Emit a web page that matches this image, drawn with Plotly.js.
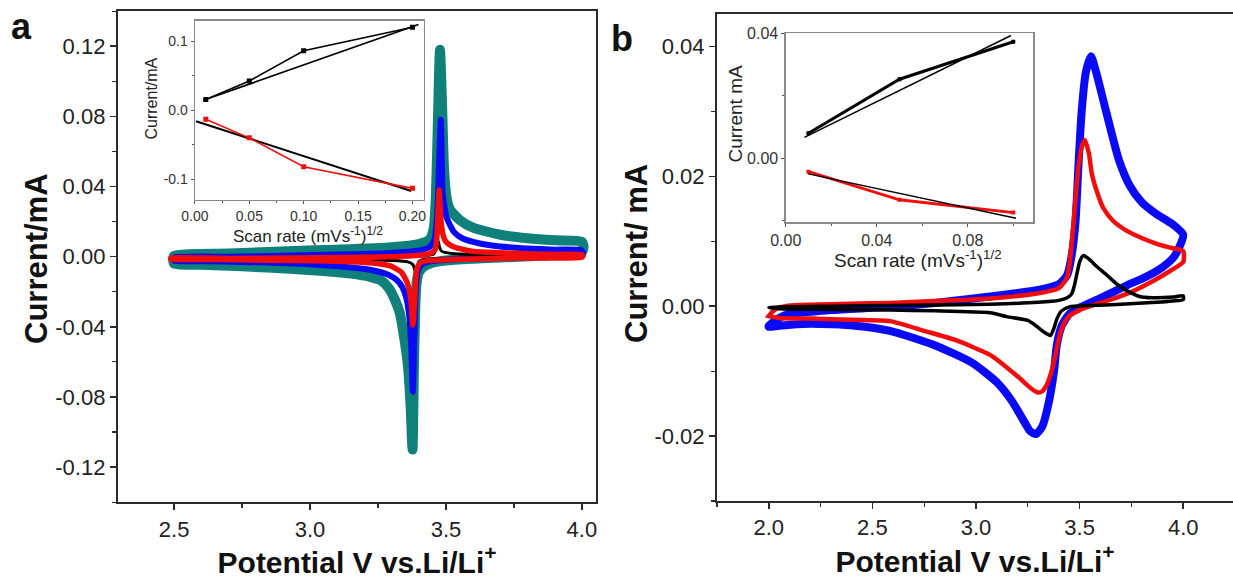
<!DOCTYPE html>
<html>
<head>
<meta charset="utf-8">
<script src="https://cdn.plot.ly/plotly-3.0.1.min.js"></script>
<style>html,body{margin:0;padding:0;background:#fff;}#chart{width:1233px;height:579px;}</style>
</head>
<body>
<div id="chart"></div>
<script>
// ---------- Panel a : CV curves (Potential V, Current mA) ----------
const aTealV = [2.50,2.70,2.94,3.10,3.30,3.40,3.44,3.455,3.463,3.470,3.478,3.486,3.493,3.502,3.514,3.55,3.60,3.70,3.80,3.90,4.00,4.006,
  4.00,3.95,3.80,3.70,3.60,3.50,3.45,3.42,3.40,3.392,3.387,3.382,3.377,3.370,3.360,3.345,3.330,3.312,3.29,3.26,3.22,3.15,3.05,2.94,2.75,2.60,2.50,2.497,2.50];
const aTealI = [0.0005,0.0018,0.0032,0.0040,0.0054,0.0072,0.0098,0.016,0.035,0.075,0.118,0.085,0.050,0.034,0.027,0.021,0.0165,0.0125,0.0105,0.0093,0.0085,0.0055,
  0.0025,0.0015,0.0002,-0.0005,-0.0012,-0.0022,-0.0035,-0.0055,-0.0090,-0.015,-0.030,-0.065,-0.110,-0.085,-0.062,-0.045,-0.032,-0.0245,-0.018,-0.0135,-0.0115,-0.0097,-0.0082,-0.0070,-0.0055,-0.0046,-0.0040,-0.0018,0.0005];

const aBlueV = [2.50,2.70,2.94,3.10,3.30,3.40,3.44,3.458,3.468,3.475,3.481,3.485,3.488,3.495,3.503,3.53,3.56,3.625,3.70,3.80,3.90,4.00,4.004,
  4.00,3.80,3.60,3.50,3.44,3.41,3.395,3.389,3.384,3.378,3.372,3.365,3.355,3.34,3.32,3.29,3.22,3.10,2.94,2.75,2.60,2.50,2.498,2.50];
const aBlueI = [-0.0005,0.0000,0.0006,0.0012,0.0021,0.0035,0.0055,0.010,0.025,0.055,0.078,0.055,0.036,0.028,0.022,0.014,0.0105,0.0075,0.0058,0.0047,0.0040,0.0036,0.0020,
  0.0006,-0.0003,-0.0010,-0.0018,-0.0028,-0.0045,-0.009,-0.020,-0.045,-0.077,-0.050,-0.034,-0.024,-0.0175,-0.0135,-0.0105,-0.0075,-0.0055,-0.0039,-0.0030,-0.0026,-0.0024,-0.0014,-0.0005];

const aRedV = [2.49,2.70,2.94,3.10,3.30,3.40,3.44,3.46,3.467,3.471,3.475,3.478,3.482,3.49,3.50,3.53,3.60,3.70,3.80,3.90,4.00,4.004,
  4.00,3.80,3.60,3.50,3.44,3.41,3.395,3.389,3.385,3.381,3.378,3.373,3.366,3.358,3.345,3.337,3.30,3.22,3.10,2.94,2.75,2.60,2.49,2.487,2.49];
const aRedI = [-0.0008,-0.0010,-0.0008,-0.0005,0.0000,0.0008,0.0018,0.004,0.012,0.025,0.038,0.030,0.020,0.012,0.0085,0.0055,0.0030,0.0022,0.0016,0.0013,0.0011,0.0004,
  -0.0003,-0.0008,-0.0013,-0.0017,-0.0022,-0.0030,-0.006,-0.013,-0.025,-0.035,-0.039,-0.028,-0.020,-0.015,-0.011,-0.009,-0.0055,-0.0035,-0.0026,-0.0022,-0.0018,-0.0016,-0.0015,-0.0012,-0.0008];

const aBlackV = [2.50,3.00,3.30,3.42,3.455,3.465,3.471,3.477,3.485,3.52,3.60,3.80,4.00,
  4.00,3.70,3.50,3.42,3.40,3.392,3.386,3.378,3.36,3.30,3.10,2.80,2.50];
const aBlackI = [-0.0006,-0.0004,-0.0001,0.0005,0.0015,0.005,0.009,0.005,0.003,0.0018,0.0012,0.0008,0.0006,
  -0.0002,-0.0006,-0.0010,-0.0014,-0.0028,-0.016,-0.008,-0.0045,-0.0030,-0.0022,-0.0015,-0.0012,-0.0010];

// ---------- Panel a inset ----------
const insAScan = [0.01, 0.05, 0.10, 0.20];
const insAOx   = [0.0155, 0.0425, 0.0865, 0.1207];
const insARed  = [-0.0130, -0.0401, -0.0820, -0.1135];
const insAFitOxX = [0.0077, 0.2055];
const insAFitOxY = [0.0145, 0.1246];
const insAFitRedX = [0.001, 0.1988];
const insAFitRedY = [-0.0159, -0.1174];

// ---------- Panel b : CV curves ----------
const bBlueV = [2.00,2.05,2.10,2.30,2.585,2.80,3.068,3.30,3.40,3.44,3.46,3.48,3.495,3.51,3.53,3.555,3.58,3.62,3.69,3.743,3.80,3.87,3.95,4.00,
  3.96,3.90,3.80,3.733,3.65,3.55,3.50,3.45,3.414,3.39,3.377,3.35,3.32,3.29,3.26,3.244,3.20,3.169,3.10,2.98,2.791,2.585,2.414,2.20,2.05,2.00,2.00];
const bBlueI = [-0.0030,-0.0018,-0.0012,-0.0006,-0.0001,0.0005,0.0015,0.0025,0.0034,0.0048,0.0075,0.0129,0.022,0.030,0.036,0.0385,0.0360,0.0310,0.0225,0.0185,0.0160,0.0142,0.0126,0.0110,
  0.0078,0.0060,0.0042,0.0033,0.0020,0.0005,-0.0002,-0.0012,-0.0030,-0.0060,-0.0099,-0.0150,-0.0185,-0.0197,-0.0192,-0.0184,-0.0160,-0.0144,-0.0117,-0.0087,-0.0059,-0.0038,-0.0030,-0.0027,-0.0030,-0.0032,-0.0030];

const bRedV = [2.00,2.03,2.10,2.30,2.585,2.80,3.068,3.30,3.40,3.44,3.463,3.48,3.495,3.51,3.525,3.545,3.559,3.585,3.613,3.66,3.728,3.80,3.872,3.94,4.00,
  4.00,3.94,3.85,3.75,3.65,3.55,3.50,3.45,3.42,3.40,3.38,3.36,3.34,3.32,3.30,3.28,3.26,3.20,3.10,3.068,2.90,2.75,2.585,2.40,2.20,2.05,2.00,2.00];
const bRedI = [-0.0015,-0.0005,0.0001,0.0003,0.0005,0.0008,0.0012,0.0020,0.0028,0.0045,0.0101,0.0165,0.0215,0.0245,0.0256,0.0235,0.0204,0.0175,0.0152,0.0132,0.0116,0.0105,0.0096,0.0090,0.0085,
  0.0068,0.0055,0.0038,0.0022,0.0010,0.0000,-0.0006,-0.0015,-0.0030,-0.0050,-0.0080,-0.0105,-0.0122,-0.0131,-0.0133,-0.0130,-0.0125,-0.0108,-0.0082,-0.0075,-0.0052,-0.0038,-0.0023,-0.0021,-0.0019,-0.0018,-0.0015,-0.0015];

const bBlackV = [2.00,2.30,2.585,3.068,3.30,3.40,3.44,3.462,3.475,3.487,3.50,3.518,3.54,3.58,3.631,3.68,3.728,3.79,3.85,3.95,4.00,
  4.00,3.95,3.872,3.70,3.55,3.45,3.41,3.39,3.375,3.36,3.345,3.32,3.293,3.25,3.148,3.068,2.80,2.585,2.30,2.05,2.00];
const bBlackI = [-0.0002,0.0000,0.0001,0.0003,0.0006,0.0009,0.0013,0.0019,0.0032,0.0050,0.0068,0.0078,0.0074,0.0062,0.0048,0.0034,0.0024,0.0015,0.0013,0.0014,0.0016,
  0.0010,0.0008,0.0006,0.0003,0.0001,-0.0001,-0.0008,-0.0020,-0.0035,-0.0045,-0.0043,-0.0038,-0.0031,-0.0022,-0.0016,-0.0010,-0.0007,-0.0006,-0.0005,-0.0004,-0.0002];

// ---------- Panel b inset ----------
const insBScan = [0.01, 0.05, 0.10];
const insBOx   = [0.0080, 0.0253, 0.0373];
const insBRed  = [-0.0043, -0.0133, -0.0174];
const insBFitOxX = [0.0082, 0.0990];
const insBFitOxY = [0.0067, 0.0393];
const insBFitRedX = [0.0099, 0.1012];
const insBFitRedY = [-0.0050, -0.0192];

// ---------- tick labels and text ----------
const aYTickVals = [-0.12, -0.08, -0.04, 0, 0.04, 0.08, 0.12];
const aYTickText = ['-0.12', '-0.08', '-0.04', '0.00', '0.04', '0.08', '0.12'];
const aXTickVals = [2.5, 3.0, 3.5, 4.0];
const aXTickText = ['2.5', '3.0', '3.5', '4.0'];
const bYTickVals = [-0.02, 0, 0.02, 0.04];
const bYTickText = ['-0.02', '0.00', '0.02', '0.04'];
const bXTickVals = [2.0, 2.5, 3.0, 3.5, 4.0];
const bXTickText = ['2.0', '2.5', '3.0', '3.5', '4.0'];
const insAYTickVals = [-0.1, 0, 0.1];
const insAYTickText = ['-0.1', '0.0', '0.1'];
const insAXTickVals = [0, 0.05, 0.10, 0.15, 0.20];
const insAXTickText = ['0.00', '0.05', '0.10', '0.15', '0.20'];
const insBYTickVals = [0, 0.04];
const insBYTickText = ['0.00', '0.04'];
const insBXTickVals = [0, 0.04, 0.08];
const insBXTickText = ['0.00', '0.04', '0.08'];

const xTitleMain = '<b>Potential V vs.Li/Li<sup>+</sup></b>';
const yTitleA = '<b>Current/mA</b>';
const yTitleB = '<b>Current/ mA</b>';
const insYTitleA = 'Current/mA';
const insYTitleB = 'Current mA';
const insXTitle = 'Scan rate (mVs<sup>-1</sup>)<sup>1/2</sup>';

const FONT = 'Liberation Sans, Arial, Helvetica, sans-serif';
const TEAL = '#10807a', BLUE = '#0a0af5', RED = '#f20d0d', BLACK = '#000000';

function cv(x, y, color, w, xa, ya) {
  return {x: x, y: y, mode: 'lines', type: 'scatter', xaxis: xa, yaxis: ya,
    line: {color: color, width: w, shape: 'spline', smoothing: 0.6}, hoverinfo: 'skip'};
}
function pts(x, y, color, w, ms, xa, ya) {
  return {x: x, y: y, mode: 'lines+markers', type: 'scatter', xaxis: xa, yaxis: ya,
    line: {color: color, width: w}, marker: {symbol: 'square', size: ms, color: color}, hoverinfo: 'skip'};
}
function fit(x, y, w, xa, ya) {
  return {x: x, y: y, mode: 'lines', type: 'scatter', xaxis: xa, yaxis: ya,
    line: {color: '#000', width: w}, hoverinfo: 'skip'};
}

const traces = [
  cv(aTealV, aTealI, TEAL, 10, 'x', 'y'),
  cv(aBlueV, aBlueI, BLUE, 6, 'x', 'y'),
  cv(aBlackV, aBlackI, BLACK, 3, 'x', 'y'),
  cv(aRedV, aRedI, RED, 5.5, 'x', 'y'),
  cv(bBlueV, bBlueI, BLUE, 8, 'x2', 'y2'),
  cv(bRedV, bRedI, RED, 4.5, 'x2', 'y2'),
  cv(bBlackV, bBlackI, BLACK, 3.5, 'x2', 'y2'),
  fit(insAFitOxX, insAFitOxY, 1.8, 'x3', 'y3'),
  fit(insAFitRedX, insAFitRedY, 2, 'x3', 'y3'),
  pts(insAScan, insAOx, BLACK, 1.6, 5, 'x3', 'y3'),
  pts(insAScan, insARed, RED, 1.6, 5, 'x3', 'y3'),
  fit(insBFitOxX, insBFitOxY, 1.5, 'x4', 'y4'),
  pts(insBScan, insBOx, BLACK, 3, 4, 'x4', 'y4'),
  pts(insBScan, insBRed, RED, 3, 4, 'x4', 'y4'),
  fit(insBFitRedX, insBFitRedY, 1.5, 'x4', 'y4')
];

const W = 1233, H = 579;
function dx(a, b) { return [a / W, b / W]; }
function dy(top, bottom) { return [(H - bottom) / H, (H - top) / H]; }

function mainAxis(o) {
  return Object.assign({
    showline: true, linecolor: '#2b2b2b', linewidth: 2, mirror: true,
    ticks: 'outside', ticklen: 6, tickwidth: 1.5, tickcolor: '#2b2b2b',
    showgrid: false, zeroline: false, tickmode: 'array',
    tickfont: {family: FONT, size: 22, color: '#222'}
  }, o);
}
function insAxis(o, fs) {
  return Object.assign({
    showline: true, linecolor: '#8a8a8a', linewidth: 1.3, mirror: true,
    ticks: 'outside', ticklen: 3, tickwidth: 1, tickcolor: '#555',
    showgrid: false, zeroline: false, tickmode: 'array',
    tickfont: {family: FONT, size: fs, color: '#333'}
  }, o);
}
function minorT(t0, d, len) {
  return {tickmode: 'linear', tick0: t0, dtick: d, ticks: 'outside', ticklen: len, tickwidth: 1.2, tickcolor: '#2b2b2b'};
}
function txt(text, x, y, size, angle, bold) {
  return {text: text, xref: 'paper', yref: 'paper', x: x / W, y: 1 - y / H, xanchor: 'center', yanchor: 'middle',
    showarrow: false, textangle: angle, font: {family: FONT, size: size, color: bold ? '#111' : '#222'}};
}

const layout = {
  width: W, height: H,
  margin: {l: 0, r: 0, t: 0, b: 0},
  paper_bgcolor: '#fff', plot_bgcolor: '#fff',
  showlegend: false,
  xaxis: mainAxis({domain: dx(117.8, 596.3), anchor: 'y', range: [2.293, 4.053],
    tickvals: aXTickVals, ticktext: aXTickText, minor: minorT(2.25, 0.25, 4),
    title: {text: xTitleMain, standoff: 8, font: {family: FONT, size: 30, color: '#111'}}}),
  yaxis: mainAxis({domain: dy(11.1, 502.2), anchor: 'x', range: [-0.14, 0.14],
    tickvals: aYTickVals, ticktext: aYTickText, minor: minorT(0, 0.02, 4)}),
  xaxis2: mainAxis({domain: [717 / W, 1], anchor: 'y2', range: [1.75, 1.75 + 516 / 207.2],
    tickvals: bXTickVals, ticktext: bXTickText, minor: minorT(1.75, 0.25, 4),
    title: {text: xTitleMain, standoff: 8, font: {family: FONT, size: 30, color: '#111'}}}),
  yaxis2: mainAxis({domain: dy(14, 501), anchor: 'x2', range: [-0.03, 0.045], mirror: false,
    tickvals: bYTickVals, ticktext: bYTickText, minor: minorT(0, 0.01, 4)}),
  xaxis3: insAxis({domain: dx(194.9, 423.9), anchor: 'y3', range: [0, 0.2105],
    tickvals: insAXTickVals, ticktext: insAXTickText,
    minor: {tickmode: 'linear', tick0: 0, dtick: 0.025, ticks: 'outside', ticklen: 2, tickcolor: '#555'}}, 14),
  yaxis3: insAxis({domain: dy(20.5, 200), anchor: 'x3', range: [-0.1304, 0.1304],
    tickvals: insAYTickVals, ticktext: insAYTickText,
    minor: {tickmode: 'linear', tick0: 0, dtick: 0.05, ticks: 'outside', ticklen: 2, tickcolor: '#555'}}, 14),
  xaxis4: insAxis({domain: dx(785.7, 1033.3), anchor: 'y4', range: [0, 0.1088],
    tickvals: insBXTickVals, ticktext: insBXTickText,
    minor: {tickmode: 'linear', tick0: 0, dtick: 0.02, ticks: 'outside', ticklen: 2, tickcolor: '#555'}}, 16),
  yaxis4: insAxis({domain: dy(33.3, 222.3), anchor: 'x4', range: [-0.0205, 0.04],
    tickvals: insBYTickVals, ticktext: insBYTickText,
    minor: {tickmode: 'linear', tick0: 0, dtick: 0.02, ticks: 'outside', ticklen: 2, tickcolor: '#555'}}, 16),
  annotations: [
    txt('<b>a</b>', 21, 27, 36, 0, true),
    txt('<b>b</b>', 622, 38, 36, 0, true),
    txt(yTitleA, 36, 259, 31, -90, true),
    txt(yTitleB, 637, 254, 31, -90, true),
    txt(insYTitleA, 151.5, 99, 16, -90, false),
    txt(insXTitle, 308, 235, 17, 0, false),
    txt(insYTitleB, 735, 114.5, 19, -90, false),
    txt(insXTitle, 918, 259, 19, 0, false)
  ]
};

Plotly.newPlot('chart', traces, layout, {staticPlot: true, displayModeBar: false});
</script>
</body>
</html>
